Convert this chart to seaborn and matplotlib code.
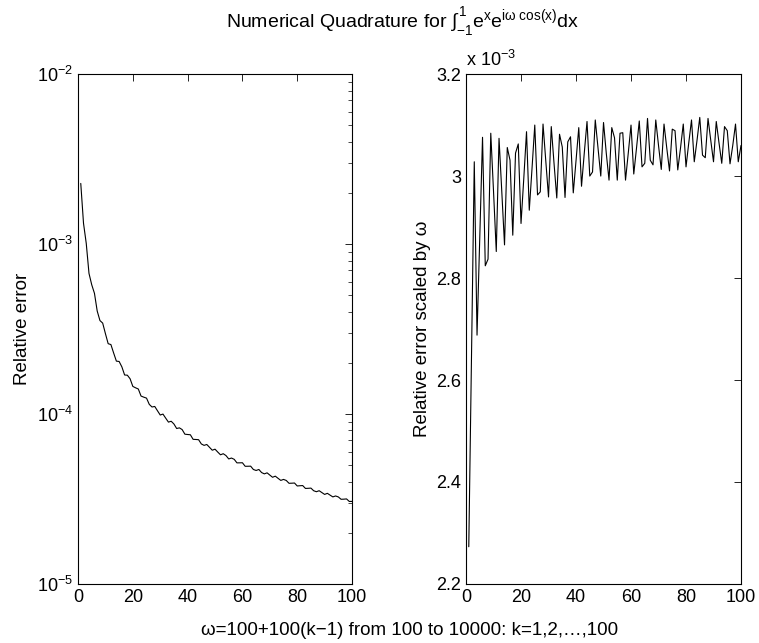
import numpy as np
import pandas as pd
import matplotlib
matplotlib.use("Agg")
import matplotlib.pyplot as plt
import seaborn as sns

# k = 1..100, omega = 100 + 100(k-1)
k = list(range(1, 101))

# relative error scaled by omega, in units of 1e-3
scaled = [
    2.273, 2.650, 3.028, 2.688, 2.880, 3.076, 2.824, 2.837, 3.084, 2.970,
    2.852, 3.074, 2.970, 2.865, 3.056, 3.031, 2.884, 3.045, 3.063, 2.907,
    2.995, 3.087, 2.933, 3.015, 3.100, 2.963, 2.969, 3.102, 3.030, 2.959,
    3.097, 3.025, 2.957, 3.082, 3.057, 2.958, 3.067, 3.077, 2.967, 3.030,
    3.095, 2.980, 3.045, 3.107, 3.000, 3.008, 3.110, 3.055, 3.000, 3.105,
    3.045, 2.992, 3.095, 3.075, 2.992, 3.084, 3.085, 2.992, 3.045, 3.100,
    3.004, 3.055, 3.108, 3.018, 3.025, 3.113, 3.031, 3.022, 3.110, 3.060,
    3.013, 3.102, 3.055, 3.010, 3.092, 3.089, 3.012, 3.055, 3.102, 3.018,
    3.065, 3.110, 3.028, 3.070, 3.115, 3.041, 3.036, 3.113, 3.070, 3.028,
    3.107, 3.065, 3.025, 3.097, 3.089, 3.024, 3.060, 3.102, 3.028, 3.060,
]

df = pd.DataFrame({"k": k, "scaled": scaled})
# plain relative error = scaled error / k  (scaled by omega/100)
df["rel_err"] = df["scaled"] * 1e-3 / df["k"]

sns.set_style("white")
plt.rcParams["font.family"] = ["Liberation Sans", "DejaVu Sans"]
plt.rcParams["mathtext.fontset"] = "custom"
plt.rcParams["mathtext.rm"] = "Liberation Sans"
plt.rcParams["mathtext.it"] = "Liberation Sans"
plt.rcParams["mathtext.sf"] = "Liberation Sans"
plt.rcParams["xtick.direction"] = "in"
plt.rcParams["ytick.direction"] = "in"
plt.rcParams["text.color"] = "black"
plt.rcParams["axes.labelcolor"] = "black"

fig = plt.figure(figsize=(7.59, 6.43), dpi=100)
ax1 = fig.add_axes([0.1028, 0.0918, 0.361, 0.793])
ax2 = fig.add_axes([0.614, 0.0918, 0.3623, 0.793])

# left panel: relative error, log scale
sns.lineplot(data=df, x="k", y="rel_err", ax=ax1, color="black", linewidth=0.8)
ax1.set_yscale("log")
ax1.set_xlim(0, 100)
ax1.set_ylim(1e-5, 1e-2)
ax1.set_xticks([0, 20, 40, 60, 80, 100])
ax1.set_xlabel("")
ax1.set_ylabel("Relative error", fontsize=13.5)

# right panel: scaled error
sns.lineplot(data=df, x="k", y="scaled", ax=ax2, color="black", linewidth=0.8)
ax2.set_xlim(0, 100)
ax2.set_ylim(2.2, 3.2)
ax2.set_xticks([0, 20, 40, 60, 80, 100])
ax2.set_yticks([2.2, 2.4, 2.6, 2.8, 3.0, 3.2])
ax2.set_yticklabels(["2.2", "2.4", "2.6", "2.8", "3", "3.2"])
ax2.set_xlabel("")
ax2.set_ylabel("Relative error scaled by \u03c9", fontsize=13.5)
ax2.text(0.0, 1.008, r"x 10$^{-3}$", transform=ax2.transAxes,
         fontsize=13, ha="left", va="bottom")

for ax in (ax1, ax2):
    for s in ax.spines.values():
        s.set_visible(True)
        s.set_color("black")
        s.set_linewidth(0.8)
    ax.tick_params(which="both", top=True, right=True, colors="black",
                   labelsize=13)
    ax.tick_params(which="major", length=5, width=0.6)
    ax.tick_params(which="minor", length=3, width=0.5)

fig.text(0.53, 0.966,
         r"Numerical Quadrature for $\int_{-1}^{1}\mathrm{e}^{\mathrm{x}}\mathrm{e}^{\mathrm{i}\omega\ \mathrm{cos(x)}}\mathrm{dx}$",
         ha="center", va="center", fontsize=14)
fig.text(0.54, 0.019,
         "\u03c9=100+100(k\u22121) from 100 to 10000: k=1,2,\u2026,100",
         ha="center", va="center", fontsize=13.5)

fig.savefig("out.png", dpi=100)
